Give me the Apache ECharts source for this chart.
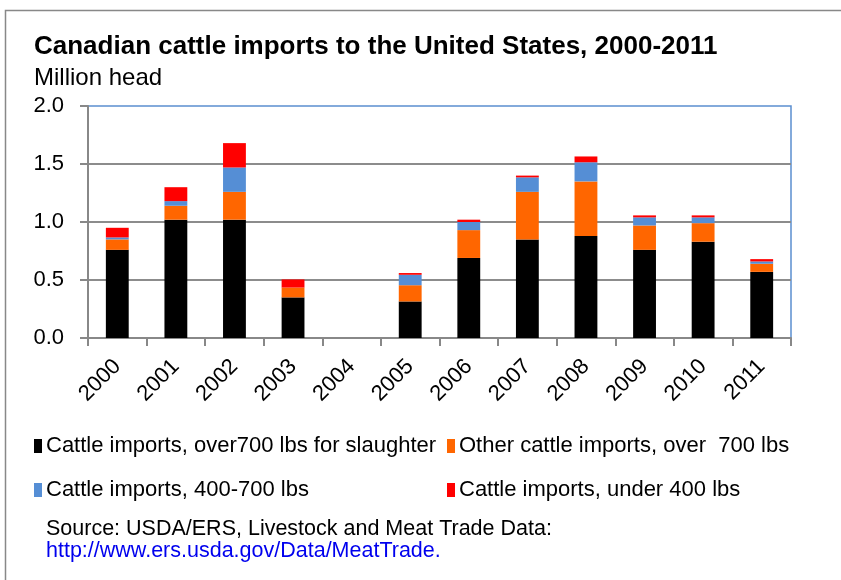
<!DOCTYPE html>
<html>
<head>
<meta charset="utf-8">
<script src="https://cdn.jsdelivr.net/npm/echarts@6/dist/echarts.min.js"></script>
<style>html,body{margin:0;padding:0;background:#fff}#c{width:841px;height:580px}</style>
</head>
<body>
<div id="c"></div>
<script>
var years = ['2000','2001','2002','2003','2004','2005','2006','2007','2008','2009','2010','2011'];
var slaughterOver700 = [0.76, 1.02, 1.02, 0.35, 0, 0.315, 0.69, 0.85, 0.88, 0.76, 0.83, 0.57];
var otherOver700     = [0.09, 0.12, 0.24, 0.085, 0, 0.14, 0.24, 0.41, 0.47, 0.21, 0.16, 0.07];
var w400to700        = [0.017, 0.04, 0.21, 0, 0, 0.09, 0.07, 0.125, 0.165, 0.07, 0.05, 0.02];
var under400         = [0.083, 0.12, 0.21, 0.07, 0, 0.015, 0.02, 0.015, 0.05, 0.017, 0.017, 0.02];
var seriesNames = ['Cattle imports, over700 lbs for slaughter', 'Other cattle imports, over  700 lbs', 'Cattle imports, 400-700 lbs', 'Cattle imports, under 400 lbs'];
var seriesColors = ['#000000', '#ff6600', '#558ed5', '#ff0000'];
var yTicks = [0, 0.5, 1.0, 1.5, 2.0];

var FONT = 'Liberation Sans, Arial, sans-serif';
var chart = echarts.init(document.getElementById('c'), null, {renderer: 'canvas'});
var dataSets = [slaughterOver700, otherOver700, w400to700, under400];

function legendAt(i, left, top) {
  return {
    data: [seriesNames[i]], left: left, top: top, orient: 'horizontal',
    icon: 'rect', itemWidth: 8, itemHeight: 14, itemGap: 0, padding: 0,
    selectedMode: false,
    itemStyle: {borderWidth: 0},
    textStyle: {fontFamily: FONT, fontSize: 22, color: '#000', padding: [0, 0, 0, -1]}
  };
}

chart.setOption({
  animation: false,
  backgroundColor: '#fff',
  title: [
    {text: 'Canadian cattle imports to the United States, 2000-2011', left: 34, top: 34, padding: 0,
     textStyle: {fontFamily: FONT, fontSize: 26, fontWeight: 'bold', color: '#000'}},
    {text: 'Million head', left: 34, top: 66, padding: 0,
     textStyle: {fontFamily: FONT, fontSize: 24, fontWeight: 'normal', color: '#000'}}
  ],
  graphic: [
    {type: 'rect', shape: {x: 5.5, y: 10.5, width: 900, height: 700}, silent: true,
     style: {fill: 'none', stroke: '#888', lineWidth: 1.5}, z: -10},
    {type: 'text', left: 46, top: 518, silent: true,
     style: {text: 'Source: USDA/ERS, Livestock and Meat Trade Data:', font: '21.5px ' + FONT, fill: '#000'}},
    {type: 'text', left: 46, top: 540, silent: true,
     style: {text: 'http://www.ers.usda.gov/Data/MeatTrade.', font: '21.5px ' + FONT, fill: '#0000ee'}}
  ],
  legend: [
    legendAt(0, 34, 435),
    legendAt(1, 447, 435),
    legendAt(2, 34, 479),
    legendAt(3, 447, 479)
  ],
  grid: {left: 88, right: 50, top: 106, bottom: 242, show: true,
         borderColor: '#5b8fd0', borderWidth: 1.5, backgroundColor: 'transparent'},
  xAxis: {
    type: 'category', data: years,
    axisLine: {show: true, lineStyle: {color: '#888', width: 2}},
    axisTick: {show: true, inside: false, length: 8, alignWithLabel: false, lineStyle: {color: '#888', width: 2}},
    axisLabel: {rotate: 45, margin: 25, fontFamily: FONT, fontSize: 22, color: '#000', interval: 0},
    splitLine: {show: false}
  },
  yAxis: {
    type: 'value', min: yTicks[0], max: yTicks[yTicks.length - 1], interval: 0.5,
    axisLine: {show: true, lineStyle: {color: '#888', width: 2}},
    axisTick: {show: true, inside: false, length: 8, lineStyle: {color: '#888', width: 2}},
    axisLabel: {margin: 24, fontFamily: FONT, fontSize: 22, color: '#000',
                formatter: function (v) { return v.toFixed(1); }},
    splitLine: {show: true, showMinLine: false, showMaxLine: false, lineStyle: {color: '#8c8c8c', width: 2}}
  },
  series: dataSets.map(function (d, i) {
    return {
      name: seriesNames[i], type: 'bar', stack: 'total', data: d, barWidth: '39%',
      itemStyle: {color: seriesColors[i], borderWidth: 0},
      emphasis: {disabled: true}
    };
  })
});
</script>
</body>
</html>
